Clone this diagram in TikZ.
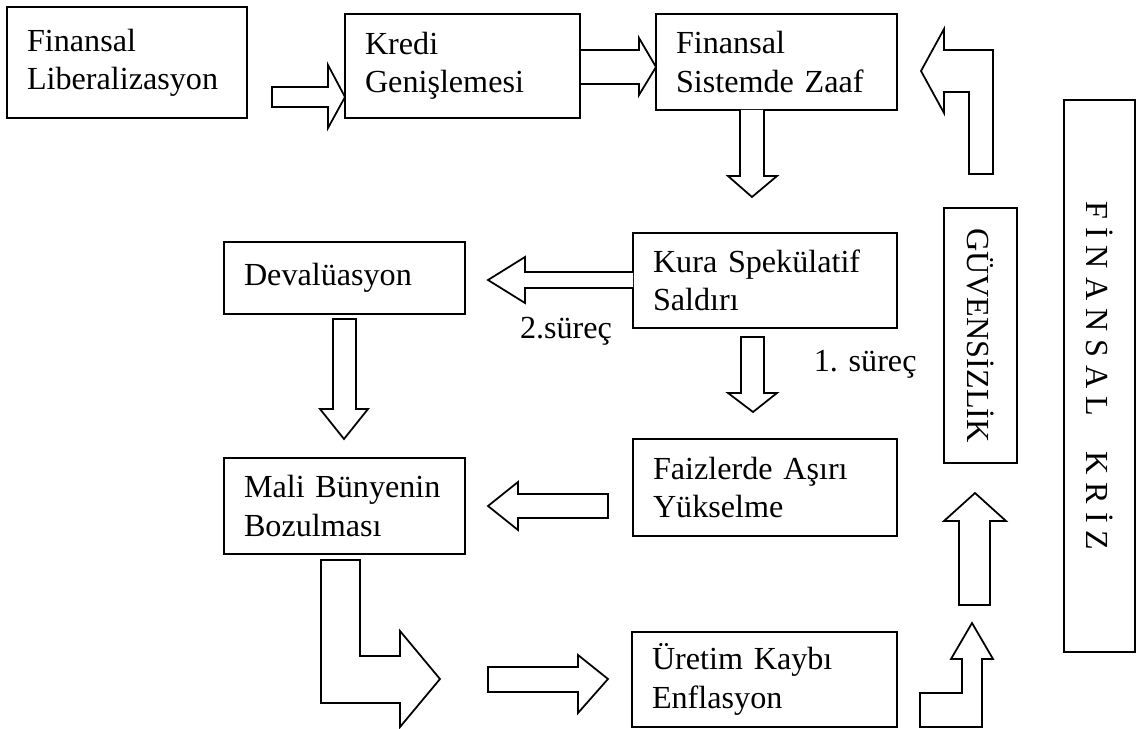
\documentclass[tikz,border=0pt]{standalone}
\usepackage{fontspec}
\setmainfont{Liberation Serif}
\usetikzlibrary{positioning}
\begin{document}
\begin{tikzpicture}[x=0.02cm,y=-0.02cm,line width=1pt,every node/.style={font=\fontsize{18.3}{21.8}\selectfont,inner sep=0pt},kutu/.style={draw,align=left,inner xsep=0.4cm},dikey/.style={draw,rotate=-90,minimum height=1.44cm},blok/.style={line join=miter,fill=white}]
\useasboundingbox (0,0) rectangle (1137,729);
\node[kutu,text width=4.0cm,minimum height=2.22cm] (lib) at (127,62.5) {Finansal\\Liberalizasyon};
\node[kutu,text width=3.9cm,minimum height=2.08cm] (kredi) at (462.5,66) {Kredi\\Genişlemesi};
\node[kutu,text width=4.02cm,minimum height=1.92cm] (zaaf) at (776.5,62) {Finansal\\Sistemde Zaaf};
\node[kutu,text width=4.48cm,minimum height=1.9cm] (kura) at (765,280.5) {Kura Spekülatif\\Saldırı};
\node[kutu,text width=4.02cm,minimum height=1.44cm] (deval) at (344.5,278) {Devalüasyon};
\node[kutu,text width=4.02cm,minimum height=1.92cm] (mali) at (344.5,506) {Mali Bünyenin\\Bozulması};
\node[kutu,text width=4.48cm,minimum height=1.94cm] (faiz) at (765,487.5) {Faizlerde Aşırı\\Yükselme};
\node[kutu,text width=4.5cm,minimum height=1.9cm] (uretim) at (764.5,679.5) {Üretim Kaybı\\Enflasyon};
\node[dikey,minimum width=5.1cm,minimum height=1.46cm] (guven) at (980.5,335.5) {GÜVENSİZLİK};
\node[dikey,minimum width=11.04cm,minimum height=1.42cm] (kriz) at (1099.5,376) {F İ N A N S A L\hspace{0.7cm}K R İ Z};
\node[anchor=base] (surec2) at (566,339) {2.süreç};
\node[anchor=base west] (surec1) at (813,372) {1. süreç};
\draw[blok] (272,87) -- (328,87) -- (328,65) -- (345,97) -- (328,128) -- (328,107) -- (272,107) -- cycle;
\draw[blok] (580,50) -- (639,50) -- (639,38) -- (656,67) -- (639,95) -- (639,84) -- (580,84) -- cycle;
\draw[blok] (993,174) -- (993,50) -- (944,50) -- (944,29) -- (921,71) -- (944,113) -- (944,92) -- (969,92) -- (969,174) -- cycle;
\draw[blok] (740,110) -- (740,176) -- (728,176) -- (752,197) -- (777,176) -- (764,176) -- (764,110);
\draw[blok] (633,272) -- (525,272) -- (525,257) -- (488,280) -- (525,303) -- (525,288) -- (633,288);
\draw[blok] (741,337) -- (741,393) -- (728,393) -- (753,412) -- (777,393) -- (764,393) -- (764,337) -- cycle;
\draw[blok] (333,319) -- (333,409) -- (320,409) -- (344,439) -- (368,409) -- (356,409) -- (356,319) -- cycle;
\draw[blok] (608,494) -- (518,494) -- (518,482) -- (488,506) -- (518,530) -- (518,518) -- (608,518) -- cycle;
\draw[blok] (321,560) -- (360,560) -- (360,656) -- (400,656) -- (400,631) -- (440,679) -- (400,727) -- (400,703) -- (321,703) -- cycle;
\draw[blok] (488,667) -- (578,667) -- (578,655) -- (608,679) -- (578,713) -- (578,692) -- (488,692) -- cycle;
\draw[blok] (959,605) -- (959,521) -- (944,521) -- (975,493) -- (1006,521) -- (990,521) -- (990,605) -- cycle;
\draw[blok] (920,727) -- (920,693) -- (962,693) -- (962,659) -- (951,659) -- (972,623) -- (993,659) -- (982,659) -- (982,727) -- cycle;
\end{tikzpicture}
\end{document}
